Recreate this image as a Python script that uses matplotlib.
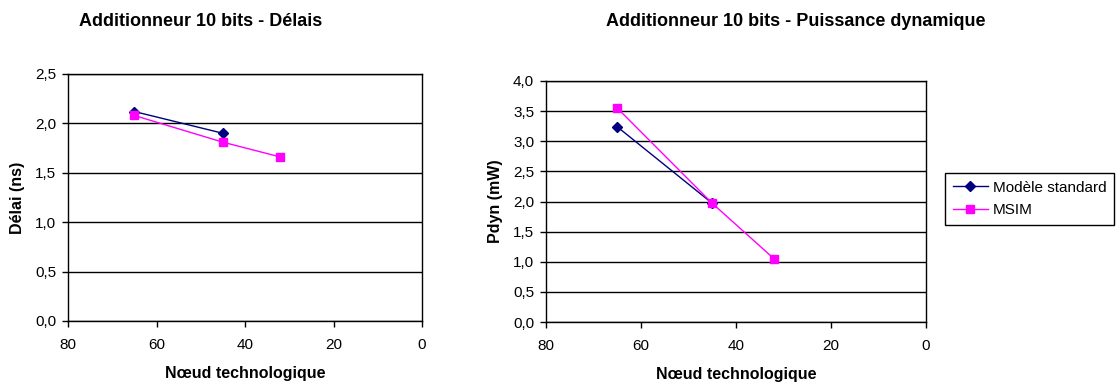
import matplotlib.pyplot as plt
from matplotlib.ticker import FuncFormatter, MultipleLocator

plt.rcParams['font.family'] = ['Liberation Sans', 'DejaVu Sans']

# Donnees
noeud_std = [65, 45]
noeud_msim = [65, 45, 32]
delai_std = [2.12, 1.90]
delai_msim = [2.08, 1.81, 1.66]
pdyn_std = [3.24, 1.97]
pdyn_msim = [3.55, 1.97, 1.05]

virgule = FuncFormatter(lambda v, p: ('%.1f' % v).replace('.', ','))

fig = plt.figure(figsize=(11.16, 3.83), dpi=100)
W, H = 1116, 383
ax1 = fig.add_axes([68 / W, 1 - 321 / H, (422 - 68) / W, (321 - 74) / H])
ax2 = fig.add_axes([546 / W, 1 - 322 / H, (926 - 546) / W, (322 - 81) / H])


def styler(ax, ymax, ylabel, ylx, xly):
    ax.set_xlim(80, 0)
    ax.set_ylim(0, ymax)
    ax.xaxis.set_major_locator(MultipleLocator(20))
    ax.yaxis.set_major_locator(MultipleLocator(0.5))
    ax.yaxis.set_major_formatter(virgule)
    ax.grid(axis='y', color='black', linewidth=1)
    ax.set_axisbelow(True)
    for s in ax.spines.values():
        s.set_color('black')
        s.set_linewidth(1)
    ax.tick_params(direction='out', length=4.5, width=1, labelsize=11, color='black', pad=4)
    ax.tick_params(axis='x', pad=8)
    ax.set_xlabel('Nœud technologique', fontsize=11.5, fontweight='bold')
    ax.set_ylabel(ylabel, fontsize=11.5, fontweight='bold')
    ax.yaxis.set_label_coords(ylx, 0.5)
    ax.xaxis.set_label_coords(0.5, xly)


l1, = ax1.plot(noeud_std, delai_std, color='#000080', marker='D', markersize=5, linewidth=1)
l2, = ax1.plot(noeud_msim, delai_msim, color='#FF00FF', marker='s', markersize=6, linewidth=1)
styler(ax1, 2.5, 'Délai (ns)', -0.121, -0.182)

ax2.plot(noeud_std, pdyn_std, color='#000080', marker='D', markersize=5, linewidth=1)
ax2.plot(noeud_msim, pdyn_msim, color='#FF00FF', marker='s', markersize=6, linewidth=1)
styler(ax2, 4.0, 'Pdyn (mW)', -0.113, -0.187)

fig.text(201 / W, 1 - 22 / H, 'Additionneur 10 bits - Délais', ha='center', va='center',
         fontsize=13, fontweight='bold')
fig.text(796 / W, 1 - 22 / H, 'Additionneur 10 bits - Puissance dynamique', ha='center', va='center',
         fontsize=13, fontweight='bold')

leg = fig.legend([l1, l2], ['Modèle standard', 'MSIM'], loc='center left',
                 bbox_to_anchor=(945 / W, 1 - 199 / H), fontsize=11, fancybox=False,
                 edgecolor='black', framealpha=1, handlelength=2.3, borderpad=0.5,
                 labelspacing=0.55, handletextpad=0.35, borderaxespad=0)
leg.get_frame().set_linewidth(1)

fig.savefig('out.png', dpi=100)
